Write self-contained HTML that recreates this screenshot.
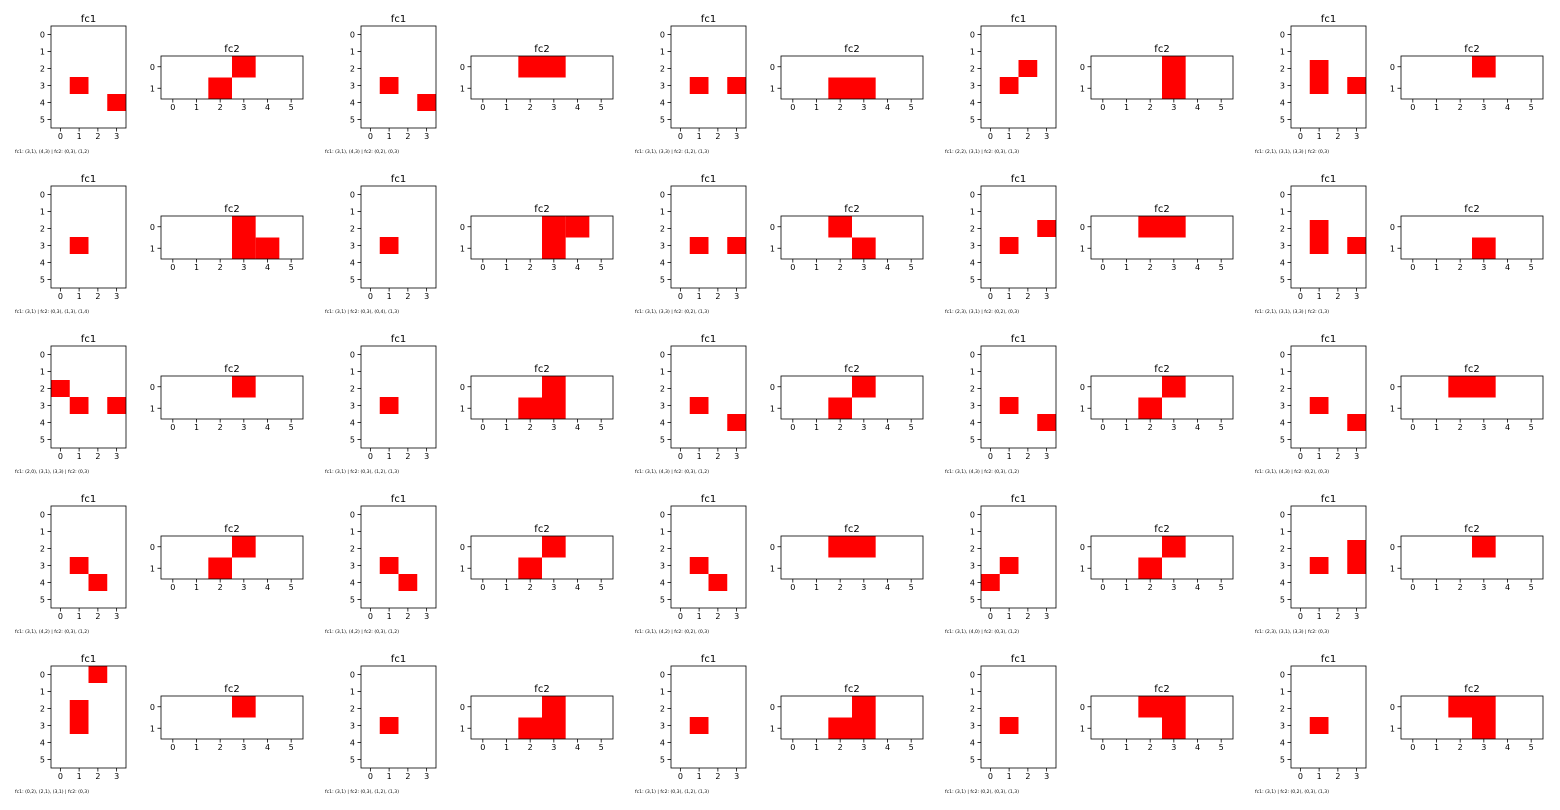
<!DOCTYPE html>
<html><head><meta charset="utf-8"><style>
html,body{margin:0;padding:0;background:#fff;}
svg{display:block;font-family:"DejaVu Sans","Liberation Sans",sans-serif;}
</style></head><body>
<svg id="chart" width="1560" height="810" viewBox="0 0 1560 810" xmlns="http://www.w3.org/2000/svg"></svg>
<script>
// Active cells per panel, listed row by row ([row, col])
const fc1Cells = [
 [[3,1],[4,3]], [[3,1],[4,3]], [[3,1],[3,3]], [[2,2],[3,1]], [[2,1],[3,1],[3,3]],
 [[3,1]], [[3,1]], [[3,1],[3,3]], [[2,3],[3,1]], [[2,1],[3,1],[3,3]],
 [[2,0],[3,1],[3,3]], [[3,1]], [[3,1],[4,3]], [[3,1],[4,3]], [[3,1],[4,3]],
 [[3,1],[4,2]], [[3,1],[4,2]], [[3,1],[4,2]], [[3,1],[4,0]], [[2,3],[3,1],[3,3]],
 [[0,2],[2,1],[3,1]], [[3,1]], [[3,1]], [[3,1]], [[3,1]]
];
const fc2Cells = [
 [[0,3],[1,2]], [[0,2],[0,3]], [[1,2],[1,3]], [[0,3],[1,3]], [[0,3]],
 [[0,3],[1,3],[1,4]], [[0,3],[0,4],[1,3]], [[0,2],[1,3]], [[0,2],[0,3]], [[1,3]],
 [[0,3]], [[0,3],[1,2],[1,3]], [[0,3],[1,2]], [[0,3],[1,2]], [[0,2],[0,3]],
 [[0,3],[1,2]], [[0,3],[1,2]], [[0,2],[0,3]], [[0,3],[1,2]], [[0,3]],
 [[0,3]], [[0,3],[1,2],[1,3]], [[0,3],[1,2],[1,3]], [[0,2],[0,3],[1,3]], [[0,2],[0,3],[1,3]]
];
const fc1Rows = [0,1,2,3,4,5];
const fc1Cols = [0,1,2,3];
const fc2Rows = [0,1];
const fc2Cols = [0,1,2,3,4,5];

const NS = "http://www.w3.org/2000/svg";
const svg = document.getElementById('chart');
function mk(tag, attrs, parent, text){
  const e = document.createElementNS(NS, tag);
  for (const k in attrs) e.setAttribute(k, attrs[k]);
  if (text !== undefined) e.textContent = text;
  parent.appendChild(e);
  return e;
}
function fmt(cells){ return cells.map(c => '(' + c[0] + ',' + c[1] + ')').join(', '); }

function heatmap(g, x0, y0, w, h, rows, cols, cells, title, nameBase){
  const cw = w / cols.length, rh = h / rows.length;
  const xs = c => x0 + c * cw;
  const ys = r => y0 + r * rh;
  const ax = mk('g', {}, g);
  
  
  mk('rect', {x:x0, y:y0, width:w, height:h, fill:'#fff'}, ax);
  cells.forEach(c => {
    const r = mk('rect', {x:xs(c[1]), y:ys(c[0]), width:cw, height:rh, fill:'#ff0000'}, ax);
    
    
  });
  mk('rect', {x:x0, y:y0, width:w, height:h, fill:'none', stroke:'#000', 'stroke-width':0.8}, ax);
  const t = mk('text', {x:x0 + w/2, y:y0 - 4, 'text-anchor':'middle', 'font-size':10}, ax, title);
  
  
  rows.forEach(r => {
    const y = ys(r) + rh/2;
    mk('line', {x1:x0-3.5, x2:x0, y1:y, y2:y, stroke:'#000', 'stroke-width':0.8}, ax);
    const l = mk('text', {x:x0-6, y:y+3, 'text-anchor':'end', 'font-size':8}, ax, String(r));
    
    
  });
  cols.forEach(c => {
    const x = xs(c) + cw/2;
    mk('line', {x1:x, x2:x, y1:y0+h, y2:y0+h+3.5, stroke:'#000', 'stroke-width':0.8}, ax);
    const l = mk('text', {x:x, y:y0+h+11, 'text-anchor':'middle', 'font-size':8}, ax, String(c));
    
    
  });
}

for (let i = 0; i < 25; i++){
  const ox = (i % 5) * 310, oy = Math.floor(i / 5) * 160;
  const g = mk('g', {}, svg);
  
  
  heatmap(g, ox+51, oy+26, 75, 102, fc1Rows, fc1Cols, fc1Cells[i], 'fc1', 'fc1');
  heatmap(g, ox+161, oy+56, 142, 43, fc2Rows, fc2Cols, fc2Cells[i], 'fc2', 'fc2');
  const cap = mk('text', {x:ox+15, y:oy+153, 'font-size':4.6, fill:'#000'}, g,
    'fc1: ' + fmt(fc1Cells[i]) + ' | fc2: ' + fmt(fc2Cells[i]));
  
  
}
</script>
</body></html>
